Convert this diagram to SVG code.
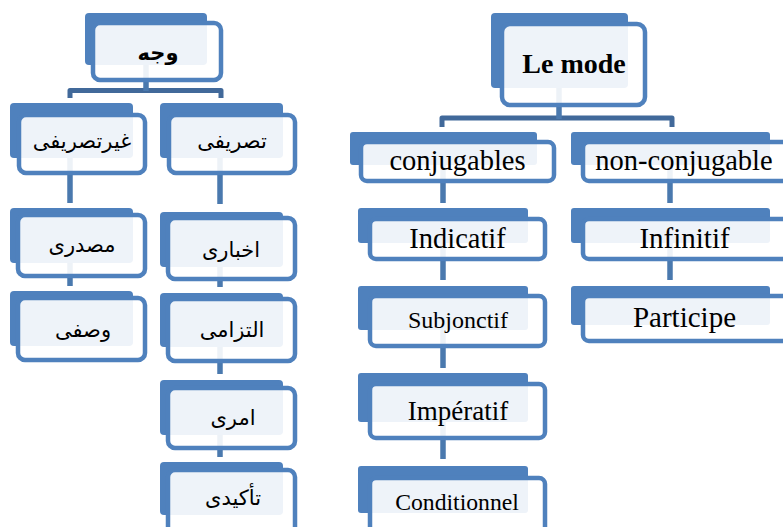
<svg xmlns="http://www.w3.org/2000/svg" width="783" height="527" viewBox="0 0 783 527">
<style>
.bk{fill:#4F81BD}
.fr{fill:#FFFFFF;fill-opacity:0.9;stroke:#4F81BD;stroke-width:4.5}
.cn{stroke:#4A79AE;stroke-width:5.5;fill:none;stroke-linecap:butt}
.bar{stroke:#41699A;stroke-width:5;fill:none;stroke-linejoin:round}
.ar{font-family:'DejaVu Sans',sans-serif;font-size:21px;fill:#000;text-anchor:middle}
.fr1{font-family:'Liberation Serif','Times New Roman',serif;fill:#000;text-anchor:middle}
</style>
<rect width="783" height="527" fill="#FFFFFF"/>
<g id="connectors">
<path class="bar" d="M70,98 V90.5 H221 V98"/>
<line class="cn" x1="146" y1="60" x2="146" y2="91"/>
<line class="cn" x1="70" y1="150" x2="70" y2="203"/>
<line class="cn" x1="70" y1="255" x2="70" y2="286"/>
<line class="cn" x1="220" y1="150" x2="220" y2="204"/>
<line class="cn" x1="220" y1="260" x2="220" y2="287"/>
<line class="cn" x1="220" y1="340" x2="220" y2="374"/>
<line class="cn" x1="220" y1="430" x2="220" y2="457"/>
<path class="bar" d="M442,127 V118 H672 V127"/>
<line class="cn" x1="559" y1="80" x2="559" y2="119"/>
<line class="cn" x1="443" y1="160" x2="443" y2="203"/>
<line class="cn" x1="443" y1="240" x2="443" y2="280"/>
<line class="cn" x1="443" y1="325" x2="443" y2="368"/>
<line class="cn" x1="443" y1="415" x2="443" y2="459"/>
<line class="cn" x1="670" y1="160" x2="670" y2="203"/>
<line class="cn" x1="670" y1="240" x2="670" y2="280"/>
</g>
<g id="n-vajh">
<rect class="bk" x="85" y="13" width="122" height="52" rx="4"/>
<rect class="fr" x="93" y="23" width="128" height="57" rx="7"/>
<text class="ar" x="158" y="60" font-weight="bold">وجه</text>
</g>
<g id="n-gheyr">
<rect class="bk" x="10" y="103" width="123" height="55" rx="4"/>
<rect class="fr" x="19" y="115" width="126" height="58" rx="7"/>
<text class="ar" x="82" y="148">غیرتصریفی</text>
</g>
<g id="n-tasrifi">
<rect class="bk" x="160" y="103" width="123" height="55" rx="4"/>
<rect class="fr" x="169" y="115" width="126" height="58" rx="7"/>
<text class="ar" x="232" y="148">تصریفی</text>
</g>
<g id="n-masdari">
<rect class="bk" x="10" y="208" width="123" height="55" rx="4"/>
<rect class="fr" x="18" y="215" width="127" height="61" rx="7"/>
<text class="ar" x="82" y="252">مصدری</text>
</g>
<g id="n-vasfi">
<rect class="bk" x="10" y="291" width="123" height="55" rx="4"/>
<rect class="fr" x="18" y="298" width="127" height="62" rx="7"/>
<text class="ar" x="83" y="337">وصفی</text>
</g>
<g id="n-ekhbari">
<rect class="bk" x="160" y="212" width="123" height="55" rx="4"/>
<rect class="fr" x="168" y="218" width="127" height="61" rx="7"/>
<text class="ar" x="231" y="257">اخباری</text>
</g>
<g id="n-eltezami">
<rect class="bk" x="160" y="293" width="123" height="54" rx="4"/>
<rect class="fr" x="168" y="299" width="127" height="62" rx="7"/>
<text class="ar" x="232" y="337">التزامی</text>
</g>
<g id="n-amri">
<rect class="bk" x="160" y="380" width="123" height="55" rx="4"/>
<rect class="fr" x="168" y="388" width="127" height="60" rx="7"/>
<text class="ar" x="233" y="425">امری</text>
</g>
<g id="n-takidi">
<rect class="bk" x="160" y="462" width="123" height="53" rx="4"/>
<rect class="fr" x="168" y="470" width="127" height="64" rx="7"/>
<text class="ar" x="233" y="505">تأکیدی</text>
</g>
<g id="n-lemode">
<rect class="bk" x="491" y="13" width="137" height="75" rx="4"/>
<rect class="fr" x="502" y="24" width="143" height="81" rx="8"/>
<text class="fr1" x="574" y="73" font-size="28" font-weight="bold">Le mode</text>
</g>
<g id="n-conj">
<rect class="bk" x="350" y="132" width="187" height="33" rx="3"/>
<rect class="fr" x="361" y="142" width="193" height="39" rx="6"/>
<text class="fr1" x="457.5" y="170" font-size="28.5">conjugables</text>
</g>
<g id="n-nonconj">
<rect class="bk" x="571" y="132" width="199" height="33" rx="3"/>
<rect class="fr" x="583" y="142" width="230" height="39" rx="6"/>
<text class="fr1" x="684" y="170" font-size="28.5">non-conjugable</text>
</g>
<g id="n-indicatif">
<rect class="bk" x="358" y="208" width="170" height="35" rx="3"/>
<rect class="fr" x="370" y="219" width="175" height="40" rx="6"/>
<text class="fr1" x="457.5" y="248" font-size="28.5">Indicatif</text>
</g>
<g id="n-subjonctif">
<rect class="bk" x="358" y="286" width="170" height="44" rx="3"/>
<rect class="fr" x="370" y="296" width="175" height="50" rx="6"/>
<text class="fr1" x="458" y="328" font-size="24">Subjonctif</text>
</g>
<g id="n-imperatif">
<rect class="bk" x="358" y="373" width="170" height="49" rx="3"/>
<rect class="fr" x="370" y="384" width="175" height="54" rx="6"/>
<text class="fr1" x="458" y="420" font-size="27">Impératif</text>
</g>
<g id="n-conditionnel">
<rect class="bk" x="358" y="466" width="170" height="47" rx="3"/>
<rect class="fr" x="370" y="478" width="175" height="62" rx="6"/>
<text class="fr1" x="457" y="510" font-size="23.7">Conditionnel</text>
</g>
<g id="n-infinitif">
<rect class="bk" x="571" y="208" width="199" height="35" rx="3"/>
<rect class="fr" x="583" y="219" width="230" height="40" rx="6"/>
<text class="fr1" x="684.5" y="248" font-size="29">Infinitif</text>
</g>
<g id="n-participe">
<rect class="bk" x="571" y="286" width="199" height="39" rx="3"/>
<rect class="fr" x="583" y="296" width="230" height="45" rx="6"/>
<text class="fr1" x="684.5" y="327" font-size="29">Participe</text>
</g>
</svg>
